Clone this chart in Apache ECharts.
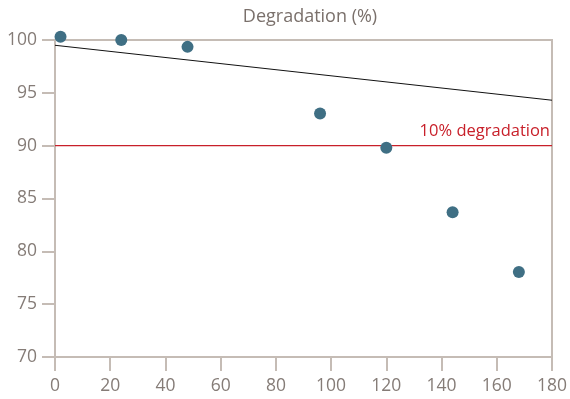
<!DOCTYPE html>
<html><head><meta charset="utf-8">
<script src="https://cdn.jsdelivr.net/npm/echarts@6/dist/echarts.min.js"></script>
<style>html,body{margin:0;padding:0;background:#fff}#c{width:570px;height:399px}</style>
</head><body><div id="c"></div>
<script>
var hours = [2, 24, 48, 96, 120, 144, 168];
var degradation = [100.3, 100.0, 99.35, 93.05, 89.8, 83.7, 78.05];
var trendX = [0, 180];
var trendY = [99.5, 94.3];
var thresholdX = [0, 180];
var thresholdY = [90, 90];
var thresholdLabel = '10% degradation';
var titleText = 'Degradation (%)';

var axisCol = '#c5bcb5';
var labelCol = '#857c77';
var font = 'Open Sans';
var chart = echarts.init(document.getElementById('c'));
chart.setOption({
  animation: false,
  textStyle: {fontFamily: font},
  title: {text: titleText, left: 305, top: 3, textAlign: 'center',
    textStyle: {fontFamily: font, fontSize: 18, fontWeight: 'normal', color: '#7a706b'}},
  grid: {left: 55, right: 16, top: 40, bottom: 42, show: true, borderColor: axisCol, borderWidth: 2},
  xAxis: {type: 'value', min: 0, max: 180, interval: 20,
    axisLine: {show: true, lineStyle: {color: axisCol, width: 2}},
    axisTick: {show: true, length: 14, lineStyle: {color: axisCol, width: 2}},
    axisLabel: {color: labelCol, fontSize: 17.5, margin: 20, fontFamily: font},
    splitLine: {show: false}},
  yAxis: {type: 'value', min: 70, max: 100, interval: 5,
    axisLine: {show: true, lineStyle: {color: axisCol, width: 2}},
    axisTick: {show: true, length: 13, lineStyle: {color: axisCol, width: 2}},
    axisLabel: {color: labelCol, fontSize: 17.5, margin: 18, fontFamily: font},
    splitLine: {show: false}},
  series: [
    {type: 'line', data: trendX.map(function(x, i){return [x, trendY[i]];}),
     showSymbol: false, lineStyle: {color: '#111', width: 1}, z: 2},
    {type: 'line', data: thresholdX.map(function(x, i){return [x, thresholdY[i]];}),
     showSymbol: false, lineStyle: {color: '#c8202a', width: 1.2}, itemStyle: {color: '#c8202a'}, z: 2,
     endLabel: {show: true, formatter: thresholdLabel, color: '#c8202a', fontSize: 16.5,
       fontFamily: font, align: 'right', verticalAlign: 'bottom', offset: [-10, -6]}},
    {type: 'scatter', data: hours.map(function(x, i){return [x, degradation[i]];}),
     symbolSize: 12, itemStyle: {color: '#3f6f84', opacity: 1}, clip: false, z: 5}
  ]
});
</script></body></html>
